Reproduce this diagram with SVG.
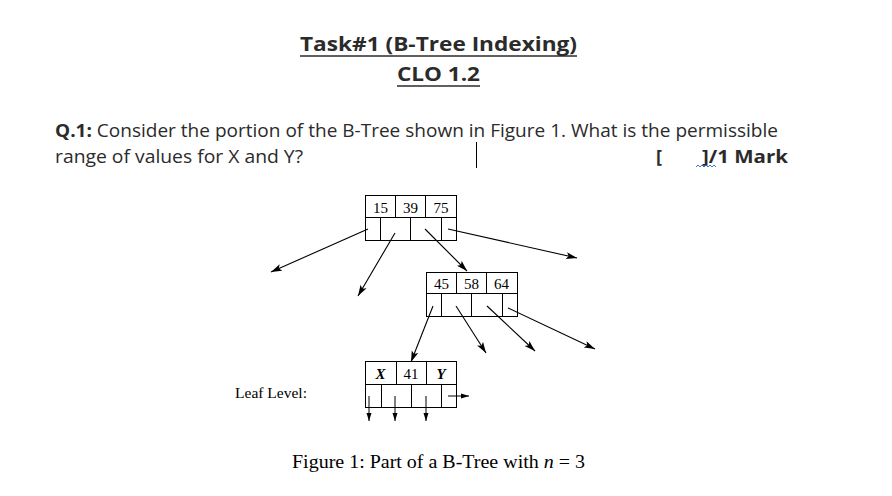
<svg xmlns="http://www.w3.org/2000/svg" width="892" height="496" viewBox="0 0 892 496">
<style>
.ui{font-family:"Open Sans","Noto Sans","Liberation Sans",sans-serif;fill:#2b2b2b}
.b{font-weight:bold}
.tm{font-family:"Liberation Serif","Times New Roman",serif;fill:#000}
.k{font-size:15px;text-anchor:middle}
.box{fill:#fff;stroke:#000;stroke-width:1}
.ln{stroke:#000;stroke-width:1;fill:none}
.ar{stroke:#000;stroke-width:1.1;fill:none;marker-end:url(#ah)}
.as{stroke:#000;stroke-width:1;fill:none;marker-end:url(#ahs)}
</style>
<defs>
<marker id="ah" markerUnits="userSpaceOnUse" markerWidth="12" markerHeight="8" refX="11" refY="4" orient="auto"><path d="M0,0.5 L11,4 L0,7.5 L2.5,4 z" fill="#000"/></marker>
<marker id="ahs" markerUnits="userSpaceOnUse" markerWidth="8" markerHeight="6" refX="8" refY="3" orient="auto"><path d="M0,0.5 L8,3 L0,5.5 z" fill="#000"/></marker>
</defs>
<rect width="892" height="496" fill="#fff"/>

<g id="header">
<text class="ui b" x="300" y="51" font-size="20" textLength="277" lengthAdjust="spacingAndGlyphs">Task#1 (B-Tree Indexing)</text>
<line x1="300" y1="56" x2="577" y2="56" stroke="#2b2b2b" stroke-width="1.5"/>
<text class="ui b" x="397" y="81" font-size="20" textLength="83" lengthAdjust="spacingAndGlyphs">CLO 1.2</text>
<line x1="397" y1="86" x2="480" y2="86" stroke="#2b2b2b" stroke-width="1.5"/>
</g>

<g id="question">
<text class="ui" x="55" y="137" font-size="18" textLength="723" lengthAdjust="spacingAndGlyphs"><tspan class="b">Q.1:</tspan> Consider the portion of the B-Tree shown in Figure 1. What is the permissible</text>
<text class="ui" x="55" y="163" font-size="18" textLength="248" lengthAdjust="spacingAndGlyphs">range of values for X and Y?</text>
<line x1="476.5" y1="142" x2="476.5" y2="168" stroke="#000" stroke-width="1"/>
<text class="ui b" x="656" y="163" font-size="18">[</text>
<text class="ui b" x="702" y="163" font-size="18" textLength="86" lengthAdjust="spacingAndGlyphs">]/1 Mark</text>
<path d="M696,167 l2,-2 l2,2 l2,-2 l2,2 l2,-2 l2,2 l2,-2 l2,2 l2,-2 l2,2" fill="none" stroke="#2f5fd0" stroke-width="0.9"/>
</g>

<g id="node-root">
<rect class="box" x="365.5" y="195.5" width="91" height="45"/>
<line class="ln" x1="365.5" y1="217.5" x2="456.5" y2="217.5"/>
<line class="ln" x1="395.5" y1="195.5" x2="395.5" y2="217.5"/>
<line class="ln" x1="425.5" y1="195.5" x2="425.5" y2="217.5"/>
<line class="ln" x1="380.5" y1="217.5" x2="380.5" y2="240.5"/>
<line class="ln" x1="410.5" y1="217.5" x2="410.5" y2="240.5"/>
<line class="ln" x1="441.5" y1="217.5" x2="441.5" y2="240.5"/>
<text class="tm k" x="380.5" y="212.5">15</text>
<text class="tm k" x="410.5" y="212.5">39</text>
<text class="tm k" x="441" y="212.5">75</text>
</g>

<g id="node-mid">
<rect class="box" x="426.5" y="272.5" width="91" height="44"/>
<line class="ln" x1="426.5" y1="293.5" x2="517.5" y2="293.5"/>
<line class="ln" x1="456.5" y1="272.5" x2="456.5" y2="293.5"/>
<line class="ln" x1="486.5" y1="272.5" x2="486.5" y2="293.5"/>
<line class="ln" x1="441.5" y1="293.5" x2="441.5" y2="316.5"/>
<line class="ln" x1="471.5" y1="293.5" x2="471.5" y2="316.5"/>
<line class="ln" x1="502.5" y1="293.5" x2="502.5" y2="316.5"/>
<text class="tm k" x="441.5" y="288.5">45</text>
<text class="tm k" x="471.5" y="288.5">58</text>
<text class="tm k" x="501.5" y="288.5">64</text>
</g>

<g id="node-leaf">
<rect class="box" x="365.5" y="361.5" width="91" height="46"/>
<line class="ln" x1="365.5" y1="384.5" x2="456.5" y2="384.5"/>
<line class="ln" x1="396.5" y1="361.5" x2="396.5" y2="384.5"/>
<line class="ln" x1="426.5" y1="361.5" x2="426.5" y2="384.5"/>
<line class="ln" x1="381.5" y1="384.5" x2="381.5" y2="407.5"/>
<line class="ln" x1="411.5" y1="384.5" x2="411.5" y2="407.5"/>
<line class="ln" x1="441.5" y1="384.5" x2="441.5" y2="407.5"/>
<text class="tm k" x="380.5" y="379" font-style="italic" font-weight="bold">X</text>
<text class="tm k" x="411" y="379">41</text>
<text class="tm k" x="441" y="379" font-style="italic" font-weight="bold">Y</text>
</g>

<g id="connectors">
<line class="ar" x1="368" y1="229" x2="271" y2="272"/>
<line class="ar" x1="395" y1="233" x2="358" y2="296"/>
<line class="ar" x1="425" y1="229" x2="467" y2="271"/>
<line class="ar" x1="448" y1="229" x2="577" y2="258"/>
<line class="ar" x1="433" y1="306" x2="411" y2="362"/>
<line class="ar" x1="456" y1="306" x2="486" y2="353"/>
<line class="ar" x1="487" y1="306" x2="535" y2="351"/>
<line class="ar" x1="508" y1="308" x2="595" y2="349"/>
<line class="as" x1="369" y1="396" x2="369" y2="421"/>
<line class="as" x1="395" y1="396" x2="395" y2="421"/>
<line class="as" x1="426" y1="396" x2="426" y2="421"/>
<line class="as" x1="448" y1="396" x2="469" y2="396"/>
</g>

<g id="labels">
<text class="tm" x="235" y="398" font-size="15" textLength="72" lengthAdjust="spacingAndGlyphs">Leaf Level:</text>
<text class="tm" x="292" y="468" font-size="19" textLength="293" lengthAdjust="spacingAndGlyphs">Figure 1: Part of a B-Tree with <tspan font-style="italic">n</tspan> = 3</text>
</g>
</svg>
